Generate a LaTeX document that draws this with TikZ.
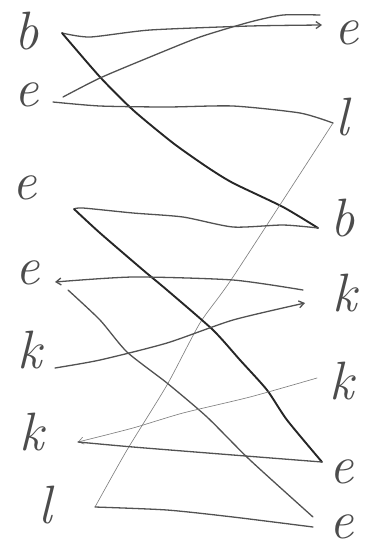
\documentclass[tikz,border=0pt]{standalone}
\usetikzlibrary{arrows.meta}
\begin{document}
\begin{tikzpicture}[x=1pt,y=-1pt,
  letter/.style={text=black!70, font=\fontsize{54}{58}\selectfont\itshape, inner sep=0pt},
  heavy/.style={draw=black!85, line width=1.9pt, line cap=round, line join=round},
  mid/.style={draw=black!68, line width=1.3pt, line cap=round, line join=round},
  faint/.style={draw=black!50, line width=0.65pt, line cap=round, line join=round},
  tip/.style={-{Straight Barb[length=5pt,width=7pt]}}]
\useasboundingbox (0,0) rectangle (367,550);
% left letters
\node[letter] (L1) at (27,31) {b};
\node[letter] (L2) at (27,95) {e};
\node[letter] (L3) at (25,188) {e};
\node[letter] (L4) at (28,273) {e};
\node[letter] (L5) at (30,350) {k};
\node[letter] (L6) at (32,432) {k};
\node[letter] (L7) at (45,505) {l};
% right letters
\node[letter] (R1) at (347,33) {e};
\node[letter] (R2) at (342,117) {l};
\node[letter] (R3) at (343,218) {b};
\node[letter] (R4) at (345,293) {k};
\node[letter] (R5) at (342,381) {k};
\node[letter] (R6) at (342,472) {e};
\node[letter] (R7) at (342,527) {e};
% endpoints
\coordinate (b1) at (62,33);
\coordinate (e1a) at (322,25);
\coordinate (e1b) at (320,15);
\coordinate (e2a) at (63,97);
\coordinate (e2b) at (53,102);
\coordinate (l2) at (333,123);
\coordinate (b3) at (318,228);
\coordinate (x3) at (74,209);
\coordinate (e4a) at (55,282);
\coordinate (e4b) at (68,290);
\coordinate (k4a) at (303,290);
\coordinate (k4b) at (305,303);
\coordinate (k5l) at (55,368);
\coordinate (k5) at (317,378);
\coordinate (k6) at (78,442);
\coordinate (e6) at (322,462);
\coordinate (l7) at (95,507);
\coordinate (e7a) at (313,517);
\coordinate (e7b) at (313,527);
% connectors
\begin{scope}[smooth, tension=0.4]
\draw[mid,tip] plot coordinates {(b1) (90,37) (150,30) (250,26) (e1a)};
\draw[heavy] plot coordinates {(b1) (100,77) (133,110) (173,143) (207,167) (233,183) (283,207) (b3)};
\draw[mid] plot coordinates {(e2a) (100,78) (150,57) (200,37) (250,22) (283,15) (e1b)};
\draw[mid] plot coordinates {(e2b) (100,106) (167,107) (233,106) (300,113) (l2)};
\draw[faint] plot coordinates {(l2) (233,277) (200,323) (167,385) (127,450) (l7)};
\draw[mid] plot coordinates {(l7) (167,510) (233,517) (e7b)};
\draw[mid] plot coordinates {(x3) (83,208) (133,213) (183,217) (233,227) (283,225) (b3)};
\draw[heavy] plot coordinates {(x3) (100,233) (143,270) (167,290) (213,330) (240,360) (267,390) (287,420) (e6)};
\draw[mid,tip] plot coordinates {(k4a) (233,280) (133,277) (e4a)};
\draw[mid] plot coordinates {(e4b) (100,320) (127,352) (167,383) (207,417) (250,460) (e7a)};
\draw[mid,tip] plot coordinates {(k5l) (100,360) (167,343) (233,320) (k4b)};
\draw[faint,tip] plot coordinates {(k5) (250,397) (183,413) (133,428) (k6)};
\draw[mid] plot coordinates {(k6) (133,447) (233,455) (e6)};
\end{scope}
\end{tikzpicture}
\end{document}
